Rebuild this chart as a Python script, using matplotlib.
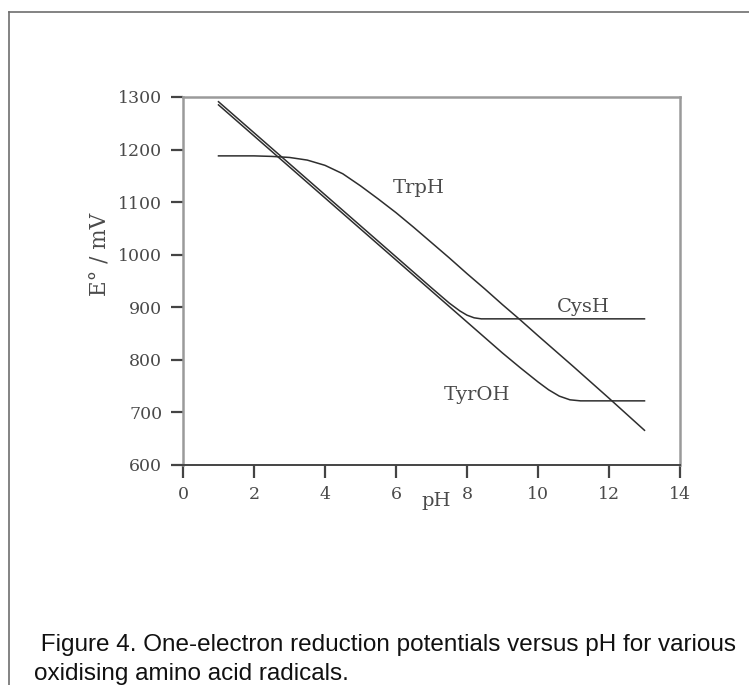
"""One-electron reduction potentials of amino acid radicals versus pH."""
import matplotlib
matplotlib.use("Agg")
import matplotlib.pyplot as plt
from matplotlib.lines import Line2D

# values (pH, E° in mV)
trp_ph = [1.0, 2.0, 2.5, 3.0, 3.5, 4.0, 4.5, 5.0, 5.5, 6.0, 6.5, 7.0, 7.5, 8.0,
          8.5, 9.0, 9.5, 10.0, 11.0, 12.0, 13.0]
trp_e = [1188, 1188, 1187, 1185, 1180, 1170, 1154, 1131, 1106, 1080, 1052, 1023,
         994, 964, 935, 905, 876, 846, 787, 727, 666]

cys_ph = [1.0, 2.0, 3.0, 4.0, 5.0, 6.0, 7.0, 7.5, 7.8, 8.0, 8.2, 8.4, 13.0]
cys_e = [1291, 1232, 1173, 1114, 1055, 996, 937, 908, 893, 885, 880, 878, 878]

tyr_ph = [1.0, 2.0, 3.0, 4.0, 5.0, 6.0, 7.0, 8.0, 9.0, 9.5, 10.0, 10.3, 10.6,
          10.9, 11.2, 13.0]
tyr_e = [1285, 1226, 1167, 1108, 1049, 990, 931, 872, 813, 785, 758, 743, 731,
         724, 722, 722]

series_names = ["TrpH", "CysH", "TyrOH"]
label_pos = [(6.65, 1127), (11.27, 900), (8.28, 733)]

x_ticks = [0, 2, 4, 6, 8, 10, 12, 14]
y_ticks = [600, 700, 800, 900, 1000, 1100, 1200, 1300]

caption_lines = [" Figure 4. One-electron reduction potentials versus pH for various",
                 "oxidising amino acid radicals."]

serif = ["DejaVu Serif"]
line_col = "#2e2e2e"
text_col = "#4a4a4a"

fig = plt.figure(figsize=(7.49, 6.85), dpi=100)
ax = fig.add_axes([183 / 749, 1 - 465 / 685, 497 / 749, 368 / 685])

for xs, ys in [(trp_ph, trp_e), (cys_ph, cys_e), (tyr_ph, tyr_e)]:
    ax.plot(xs, ys, color=line_col, linewidth=1.1)

for name, (px, py) in zip(series_names, label_pos):
    ax.text(px, py, name, ha="center", va="center", fontsize=14,
            family=serif, color=text_col)

ax.set_xlim(0, 14)
ax.set_ylim(600, 1300)
ax.set_xticks(x_ticks)
ax.set_yticks(y_ticks)
ax.tick_params(direction="out", length=9, width=1.6, color="#444444",
               labelsize=12.5, labelcolor=text_col, pad=6)
for lab in ax.get_xticklabels() + ax.get_yticklabels():
    lab.set_family(serif)

ax.spines["bottom"].set_color("#444444")
ax.spines["bottom"].set_linewidth(1.4)
for side in ["left", "top", "right"]:
    ax.spines[side].set_color("#9a9a9a")
    ax.spines[side].set_linewidth(1.8)

ax.text(0.51, -0.098, "pH", transform=ax.transAxes, ha="center", va="center",
        fontsize=14, family=serif, color=text_col)
ax.text(-0.167, 0.571, "E° / mV", transform=ax.transAxes, rotation=90,
        ha="center", va="center", fontsize=15.5, family=serif, color=text_col)

# outer frame of the figure panel (left and top edges only)
fig.add_artist(Line2D([9 / 749, 9 / 749], [0, 1 - 12 / 685],
                      transform=fig.transFigure, color="#6e6e6e", linewidth=1.2))
fig.add_artist(Line2D([9 / 749, 1], [1 - 12 / 685, 1 - 12 / 685],
                      transform=fig.transFigure, color="#6e6e6e", linewidth=1.2))

for i, line in enumerate(caption_lines):
    fig.text(34 / 749, 1 - (645 + 29 * i) / 685, line, ha="left", va="center",
             fontsize=17.5, family=["Liberation Sans"], color="#111111")

fig.savefig("out.png", dpi=100)
